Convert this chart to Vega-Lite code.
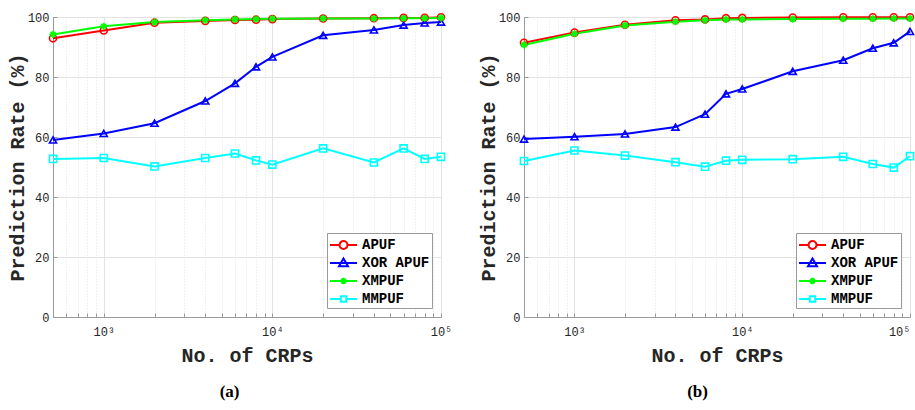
{
  "$schema": "https://vega.github.io/schema/vega-lite/v6.json",
  "padding": {"top": 10, "left": 6, "right": 0, "bottom": 5},
  "background": "white",
  "datasets": {
    "a": [
      {"n":500,"puf":"APUF","rate":92.9},{"n":1000,"puf":"APUF","rate":95.5},{"n":2000,"puf":"APUF","rate":98.1},{"n":4000,"puf":"APUF","rate":98.7},{"n":6000,"puf":"APUF","rate":99.0},{"n":8000,"puf":"APUF","rate":99.1},{"n":10000,"puf":"APUF","rate":99.3},{"n":20000,"puf":"APUF","rate":99.5},{"n":40000,"puf":"APUF","rate":99.6},{"n":60000,"puf":"APUF","rate":99.7},{"n":80000,"puf":"APUF","rate":99.7},{"n":100000,"puf":"APUF","rate":99.9},
      {"n":500,"puf":"XOR APUF","rate":59.0},{"n":1000,"puf":"XOR APUF","rate":61.2},{"n":2000,"puf":"XOR APUF","rate":64.6},{"n":4000,"puf":"XOR APUF","rate":72.0},{"n":6000,"puf":"XOR APUF","rate":77.9},{"n":8000,"puf":"XOR APUF","rate":83.4},{"n":10000,"puf":"XOR APUF","rate":86.7},{"n":20000,"puf":"XOR APUF","rate":93.9},{"n":40000,"puf":"XOR APUF","rate":95.7},{"n":60000,"puf":"XOR APUF","rate":97.3},{"n":80000,"puf":"XOR APUF","rate":98.0},{"n":100000,"puf":"XOR APUF","rate":98.3},
      {"n":500,"puf":"XMPUF","rate":94.2},{"n":1000,"puf":"XMPUF","rate":96.9},{"n":2000,"puf":"XMPUF","rate":98.3},{"n":4000,"puf":"XMPUF","rate":98.9},{"n":6000,"puf":"XMPUF","rate":99.2},{"n":8000,"puf":"XMPUF","rate":99.3},{"n":10000,"puf":"XMPUF","rate":99.4},{"n":20000,"puf":"XMPUF","rate":99.5},{"n":40000,"puf":"XMPUF","rate":99.5},{"n":60000,"puf":"XMPUF","rate":99.6},{"n":80000,"puf":"XMPUF","rate":99.6},{"n":100000,"puf":"XMPUF","rate":99.7},
      {"n":500,"puf":"MMPUF","rate":52.7},{"n":1000,"puf":"MMPUF","rate":53.0},{"n":2000,"puf":"MMPUF","rate":50.2},{"n":4000,"puf":"MMPUF","rate":53.0},{"n":6000,"puf":"MMPUF","rate":54.5},{"n":8000,"puf":"MMPUF","rate":52.2},{"n":10000,"puf":"MMPUF","rate":50.8},{"n":20000,"puf":"MMPUF","rate":56.2},{"n":40000,"puf":"MMPUF","rate":51.5},{"n":60000,"puf":"MMPUF","rate":56.2},{"n":80000,"puf":"MMPUF","rate":52.7},{"n":100000,"puf":"MMPUF","rate":53.4}
    ],
    "b": [
      {"n":500,"puf":"APUF","rate":91.4},{"n":1000,"puf":"APUF","rate":94.8},{"n":2000,"puf":"APUF","rate":97.4},{"n":4000,"puf":"APUF","rate":98.9},{"n":6000,"puf":"APUF","rate":99.2},{"n":8000,"puf":"APUF","rate":99.6},{"n":10000,"puf":"APUF","rate":99.7},{"n":20000,"puf":"APUF","rate":99.8},{"n":40000,"puf":"APUF","rate":99.9},{"n":60000,"puf":"APUF","rate":99.9},{"n":80000,"puf":"APUF","rate":99.9},{"n":100000,"puf":"APUF","rate":99.9},
      {"n":500,"puf":"XOR APUF","rate":59.3},{"n":1000,"puf":"XOR APUF","rate":60.1},{"n":2000,"puf":"XOR APUF","rate":61.0},{"n":4000,"puf":"XOR APUF","rate":63.3},{"n":6000,"puf":"XOR APUF","rate":67.6},{"n":8000,"puf":"XOR APUF","rate":74.4},{"n":10000,"puf":"XOR APUF","rate":76.0},{"n":20000,"puf":"XOR APUF","rate":81.9},{"n":40000,"puf":"XOR APUF","rate":85.6},{"n":60000,"puf":"XOR APUF","rate":89.6},{"n":80000,"puf":"XOR APUF","rate":91.4},{"n":100000,"puf":"XOR APUF","rate":95.2},
      {"n":500,"puf":"XMPUF","rate":90.7},{"n":1000,"puf":"XMPUF","rate":94.4},{"n":2000,"puf":"XMPUF","rate":97.2},{"n":4000,"puf":"XMPUF","rate":98.4},{"n":6000,"puf":"XMPUF","rate":98.9},{"n":8000,"puf":"XMPUF","rate":99.2},{"n":10000,"puf":"XMPUF","rate":99.2},{"n":20000,"puf":"XMPUF","rate":99.3},{"n":40000,"puf":"XMPUF","rate":99.4},{"n":60000,"puf":"XMPUF","rate":99.4},{"n":80000,"puf":"XMPUF","rate":99.5},{"n":100000,"puf":"XMPUF","rate":99.5},
      {"n":500,"puf":"MMPUF","rate":52.0},{"n":1000,"puf":"MMPUF","rate":55.5},{"n":2000,"puf":"MMPUF","rate":53.8},{"n":4000,"puf":"MMPUF","rate":51.6},{"n":6000,"puf":"MMPUF","rate":50.1},{"n":8000,"puf":"MMPUF","rate":52.1},{"n":10000,"puf":"MMPUF","rate":52.4},{"n":20000,"puf":"MMPUF","rate":52.6},{"n":40000,"puf":"MMPUF","rate":53.4},{"n":60000,"puf":"MMPUF","rate":51.0},{"n":80000,"puf":"MMPUF","rate":49.8},{"n":100000,"puf":"MMPUF","rate":53.6}
    ]
  },
  "spacing": 24,
  "resolve": {"legend": {"color": "independent"}},
  "hconcat": [
    {
      "width": 388, "height": 300,
      "data": {"name": "a"},
      "title": {"text": "(a)", "orient": "bottom", "frame": "bounds", "anchor": "middle"},
      "encoding": {
        "x": {"field": "n", "type": "quantitative", "title": "No. of CRPs",
          "scale": {"type": "log", "domain": [500, 100000], "nice": false},
          "axis": {"values": [500,600,700,800,900,1000,2000,3000,4000,5000,6000,7000,8000,9000,10000,20000,30000,40000,50000,60000,70000,80000,90000,100000],
            "labelExpr": "datum.value === 1000 ? '10³' : datum.value === 10000 ? '10⁴' : datum.value === 100000 ? '10⁵' : ''",
            "gridDash": {"condition": {"test": "indexof([1000,10000,100000], datum.value) >= 0", "value": []}, "value": [1, 2]},
            "labelOverlap": false, "labelFlush": false}},
        "y": {"field": "rate", "type": "quantitative", "title": "Prediction Rate (%)",
          "scale": {"domain": [0, 100], "nice": false},
          "axis": {"values": [0, 20, 40, 60, 80, 100]}},
        "color": {"field": "puf", "type": "nominal",
          "scale": {"domain": ["APUF", "XOR APUF", "XMPUF", "MMPUF"], "range": ["#ff0000", "#0000ff", "#00ff00", "#00ffff"]},
          "legend": {"title": null, "orient": "bottom-right", "offset": 9,
            "encode": {"symbols": {"update": {
              "shape": {"signal": "datum.value === 'APUF' ? 'M-1,0H0.06M0.94,0H2M0.94,0A0.44,0.44 0 1,1 0.06,0A0.44,0.44 0 1,1 0.94,0' : datum.value === 'XOR APUF' ? 'M-1,0H2M0.5,-0.5L1,0.35L0,0.35Z' : datum.value === 'XMPUF' ? 'M-1,0H2M0.5,-0.35V0.35M0.25,-0.25L0.75,0.25M0.25,0.25L0.75,-0.25' : 'M-1,0H0.2M0.8,0H2M0.2,-0.3H0.8V0.3H0.2Z'"},
              "fill": {"value": "transparent"},
              "strokeWidth": {"value": 2}}}}}}
      },
      "layer": [
        {"mark": {"type": "line", "strokeWidth": 2}, "encoding": {}},
        {"mark": {"type": "point", "filled": false, "strokeWidth": 1.6, "size": 50, "opacity": 1},
          "encoding": {"shape": {"field": "puf", "type": "nominal", "legend": null,
            "scale": {"domain": ["APUF", "XOR APUF", "XMPUF", "MMPUF"], "range": ["circle", "triangle-up", "M-1,0H1M0,-1V1M-0.7,-0.7L0.7,0.7M-0.7,0.7L0.7,-0.7", "square"]}}}}
      ]
    },
    {
      "width": 386, "height": 300,
      "data": {"name": "b"},
      "title": {"text": "(b)", "orient": "bottom", "frame": "bounds", "anchor": "middle"},
      "encoding": {
        "x": {"field": "n", "type": "quantitative", "title": "No. of CRPs",
          "scale": {"type": "log", "domain": [500, 100000], "nice": false},
          "axis": {"values": [500,600,700,800,900,1000,2000,3000,4000,5000,6000,7000,8000,9000,10000,20000,30000,40000,50000,60000,70000,80000,90000,100000],
            "labelExpr": "datum.value === 1000 ? '10³' : datum.value === 10000 ? '10⁴' : datum.value === 100000 ? '10⁵' : ''",
            "gridDash": {"condition": {"test": "indexof([1000,10000,100000], datum.value) >= 0", "value": []}, "value": [1, 2]},
            "labelOverlap": false, "labelFlush": true}},
        "y": {"field": "rate", "type": "quantitative", "title": "Prediction Rate (%)",
          "scale": {"domain": [0, 100], "nice": false},
          "axis": {"values": [0, 20, 40, 60, 80, 100]}},
        "color": {"field": "puf", "type": "nominal",
          "scale": {"domain": ["APUF", "XOR APUF", "XMPUF", "MMPUF"], "range": ["#ff0000", "#0000ff", "#00ff00", "#00ffff"]},
          "legend": {"title": null, "orient": "bottom-right", "offset": 9,
            "encode": {"symbols": {"update": {
              "shape": {"signal": "datum.value === 'APUF' ? 'M-1,0H0.06M0.94,0H2M0.94,0A0.44,0.44 0 1,1 0.06,0A0.44,0.44 0 1,1 0.94,0' : datum.value === 'XOR APUF' ? 'M-1,0H2M0.5,-0.5L1,0.35L0,0.35Z' : datum.value === 'XMPUF' ? 'M-1,0H2M0.5,-0.35V0.35M0.25,-0.25L0.75,0.25M0.25,0.25L0.75,-0.25' : 'M-1,0H0.2M0.8,0H2M0.2,-0.3H0.8V0.3H0.2Z'"},
              "fill": {"value": "transparent"},
              "strokeWidth": {"value": 2}}}}}}
      },
      "layer": [
        {"mark": {"type": "line", "strokeWidth": 2}, "encoding": {}},
        {"mark": {"type": "point", "filled": false, "strokeWidth": 1.6, "size": 50, "opacity": 1},
          "encoding": {"shape": {"field": "puf", "type": "nominal", "legend": null,
            "scale": {"domain": ["APUF", "XOR APUF", "XMPUF", "MMPUF"], "range": ["circle", "triangle-up", "M-1,0H1M0,-1V1M-0.7,-0.7L0.7,0.7M-0.7,0.7L0.7,-0.7", "square"]}}}}
      ]
    }
  ],
  "config": {
    "view": {"stroke": "#9a9a9a", "strokeWidth": 1},
    "axis": {
      "labelFont": "Liberation Mono", "labelFontSize": 12, "labelColor": "#262626",
      "titleFont": "Liberation Mono", "titleFontSize": 20, "titleFontWeight": "bold", "titleColor": "#262626",
      "gridColor": "#e3e3e3", "gridWidth": 1,
      "domainColor": "#9a9a9a", "tickColor": "#9a9a9a", "tickSize": -4, "labelPadding": 8
    },
    "axisY": {"titlePadding": 0},
    "axisX": {"titlePadding": 8, "labelPadding": 13},
    "legend": {
      "strokeColor": "#9a9a9a", "fillColor": "white", "padding": 2,
      "labelFont": "Liberation Mono", "labelFontSize": 14, "labelFontWeight": "bold", "labelColor": "#000000",
      "symbolSize": 324, "symbolStrokeWidth": 2, "rowPadding": 0, "labelOffset": 13
    },
    "title": {"font": "Liberation Serif", "fontSize": 17, "fontWeight": "bold", "color": "#000000", "offset": 19}
  }
}
